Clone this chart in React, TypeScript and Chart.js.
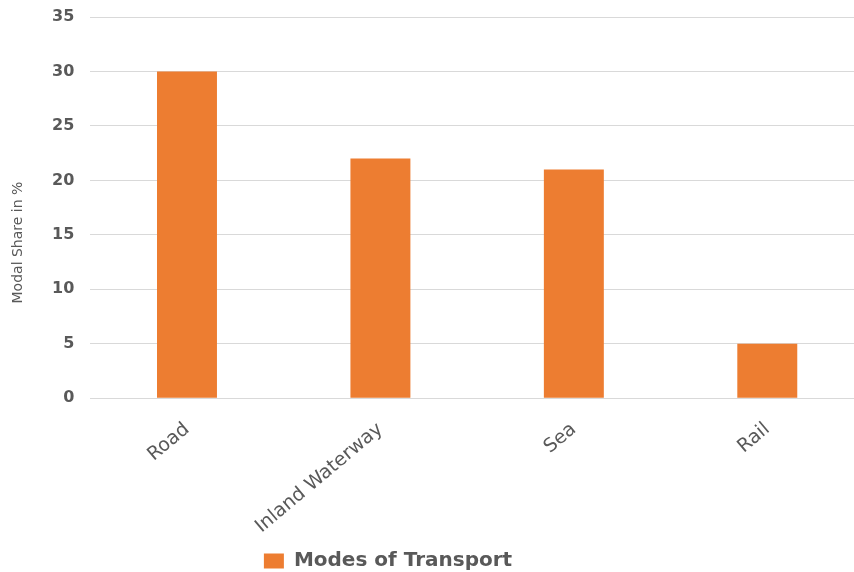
import React, { useEffect, useRef } from "react";
import { Chart, registerables } from "chart.js";

Chart.register(...registerables);

const categories = ["Road", "Inland Waterway", "Sea", "Rail"];
const modalShare = [30, 22, 21, 5];
const seriesName = "Modes of Transport";
const yTitle = "Modal Share in %";
const yMin = 0;
const yMax = 35;
const yStep = 5;

const legendShift = {
  id: "legendShift",
  afterLayout(chart: any) {
    const lg = chart.legend;
    if (lg) {
      lg.left -= 62;
      lg.right -= 62;
    }
  },
};

const yTitlePlugin = {
  id: "yTitlePlugin",
  afterDraw(chart: any) {
    const { ctx, chartArea } = chart;
    const cy = (chartArea.top + chartArea.bottom) / 2 + 35;
    ctx.save();
    ctx.translate(18, cy);
    ctx.rotate(-Math.PI / 2);
    ctx.font = "14px 'DejaVu Sans'";
    ctx.fillStyle = "#595959";
    ctx.textAlign = "center";
    ctx.textBaseline = "middle";
    ctx.fillText(yTitle, 0, 0);
    ctx.restore();
  },
};

export default function App() {
  const ref = useRef<HTMLCanvasElement | null>(null);
  useEffect(() => {
    if (!ref.current) return;
    const chart = new Chart(ref.current, {
      type: "bar",
      data: {
        labels: categories,
        datasets: [
          {
            label: seriesName,
            data: modalShare,
            backgroundColor: "#ED7D31",
            borderWidth: 0,
            categoryPercentage: 1,
            barPercentage: 0.31,
          },
        ],
      },
      options: {
        animation: false,
        responsive: false,
        maintainAspectRatio: false,
        layout: { padding: { top: 0, left: 36, right: 2, bottom: -9 } },
        plugins: {
          tooltip: { enabled: false },
          legend: {
            position: "bottom",
            labels: {
              boxWidth: 20,
              boxHeight: 15,
              color: "#595959",
              font: { family: "DejaVu Sans", size: 20, weight: "bold" },
              padding: 4,
            },
          },
        },
        scales: {
          x: {
            afterFit(scale: any) {
              scale.height -= 3;
            },
            grid: { display: false },
            border: { display: false },
            ticks: {
              color: "#595959",
              font: { family: "DejaVu Sans", size: 19 },
              minRotation: 40,
              maxRotation: 40,
              padding: 12,
            },
          },
          y: {
            min: yMin,
            max: yMax,
            afterFit(scale: any) {
              scale.paddingTop = 17;
              scale.paddingBottom = 0;
            },
            ticks: {
              stepSize: yStep,
              color: "#595959",
              font: { family: "DejaVu Sans", size: 16, weight: "bold" },
              padding: 16,
            },
            grid: { color: "#d9d9d9", drawTicks: false, lineWidth: 1 },
            border: { display: false },
            title: { display: false },
          },
        },
      },
      plugins: [legendShift, yTitlePlugin],
    });
    return () => chart.destroy();
  }, []);
  return (
    <div style={{ position: "fixed", left: 0, top: 0, width: 854, height: 572, overflow: "hidden", background: "#fff" }}>
      <canvas ref={ref} width={866} height={572} style={{ display: "block", width: 866, height: 572 }} />
    </div>
  );
}
